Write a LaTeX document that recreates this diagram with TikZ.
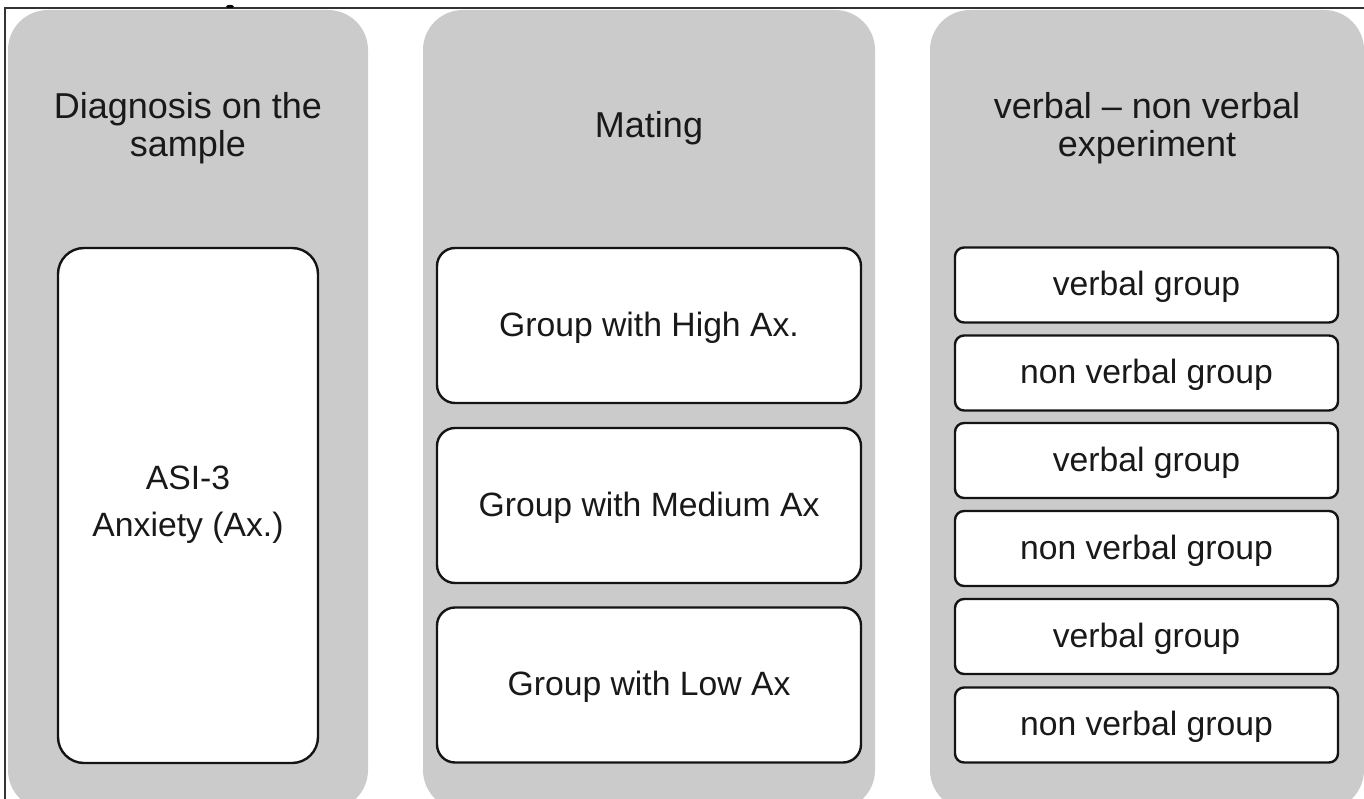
\documentclass[tikz,border=0pt]{standalone}
\usepackage{fontspec}
\setmainfont{Liberation Sans}
\definecolor{colgray}{HTML}{CBCBCB}
\definecolor{framecol}{HTML}{333333}
\tikzset{
  column/.style={fill=colgray, draw=none, rounded corners=40pt, inner sep=0pt, outer sep=0pt},
  title/.style={font=\fontsize{36}{38}\selectfont, align=center, inner sep=0pt, text=black!90},
  wbox/.style={fill=white, draw=black!92, line width=2.4pt, inner sep=0pt, outer sep=0pt,
               align=center, font=\fontsize{33.7}{35.6}\selectfont, text=black!90,
               text height=25pt, text depth=4pt},
  bigbox/.style={fill=white, draw=black!92, line width=2.4pt, inner sep=0pt, outer sep=0pt, rounded corners=26pt},
  midbox/.style={wbox, rounded corners=18pt, minimum width=424pt, minimum height=155pt},
  smallbox/.style={wbox, rounded corners=9pt, minimum width=383pt, minimum height=75pt},
  bodytext/.style={align=center, font=\fontsize{33.7}{47.5}\selectfont, text=black!90, inner sep=0pt},
}
\begin{document}
\begin{tikzpicture}[x=1pt,y=-1pt]
\useasboundingbox (0,0) rectangle (1364,799);
\clip (0,0) rectangle (1364,799);
\fill[white] (0,0) rectangle (1364,799);
% frame
\draw[framecol, line width=1.8pt] (5,799) -- (5,8) -- (1364,8);
\fill[black] (230,6.5) ellipse (4pt and 1.6pt);
% columns
\node[column, minimum width=360pt, minimum height=800pt] (c1) at (188,410) {};
\node[column, minimum width=452pt, minimum height=800pt] (c2) at (649,410) {};
\node[column, minimum width=434pt, minimum height=800pt] (c3) at (1147,410) {};
% titles
\node[title] (t1) at (188,128) {Diagnosis on the\\sample};
\node[title] (t2) at (649,128) {Mating};
\node[title] (t3) at (1147,128) {verbal – non verbal\\experiment};
% column 1
\node[bigbox, minimum width=260pt, minimum height=515pt] (asi) at (188,505.5) {};
\node[bodytext] (asit) at (188,504.5) {ASI-3\\Anxiety (Ax.)};
% column 2
\node[midbox] (high) at (649,325.5) {Group with High Ax.};
\node[midbox] (med) at (649,505.5) {Group with Medium Ax};
\node[midbox] (low) at (649,685) {Group with Low Ax};
% column 3
\node[smallbox] (g1) at (1146.5,285) {verbal group};
\node[smallbox] (g2) at (1146.5,373) {non verbal group};
\node[smallbox] (g3) at (1146.5,460.5) {verbal group};
\node[smallbox] (g4) at (1146.5,548.5) {non verbal group};
\node[smallbox] (g5) at (1146.5,636.5) {verbal group};
\node[smallbox] (g6) at (1146.5,725) {non verbal group};
\end{tikzpicture}
\end{document}
